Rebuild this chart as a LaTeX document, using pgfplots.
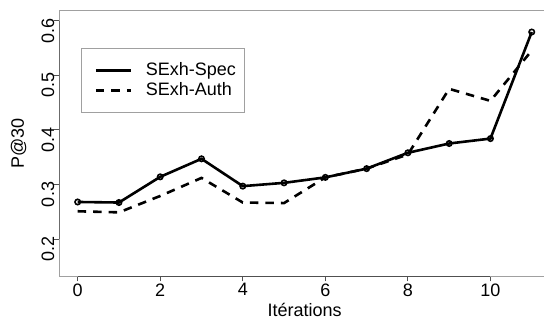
\documentclass[border=0pt]{standalone}
\usepackage{fontspec}
\setmainfont{Liberation Sans}
\usepackage{pgfplots}
\pgfplotsset{compat=1.18}
\definecolor{boxgray}{HTML}{A0A0A0}
\definecolor{axgray}{HTML}{505050}
\pgfplotstableread{
x spec auth
0 0.268 0.251
1 0.267 0.249
2 0.314 0.279
3 0.347 0.312
4 0.297 0.267
5 0.303 0.266
6 0.313 0.313
7 0.329 0.329
8 0.358 0.355
9 0.375 0.475
10 0.384 0.453
11 0.579 0.545
}\datatable
\begin{document}
\begin{tikzpicture}
\begin{axis}[
  at={(0,0)}, anchor=south west,
  scale only axis, width=490.4pt, height=265.6pt,
  xmin=-0.44, xmax=11.44, ymin=0.132, ymax=0.618,
  axis line style={draw=boxgray, line width=0.8pt},
  xtick={0,2,4,6,8,10}, ytick={0.2,0.3,0.4,0.5,0.6},
  xtick pos=bottom, ytick pos=left,
  tick align=outside, major tick length=5pt,
  tick style={axgray, line width=0.8pt},
  /pgf/number format/assume math mode=true,
  yticklabel style={/pgf/number format/fixed, /pgf/number format/precision=1, /pgf/number format/fixed zerofill},
  tick label style={font=\fontsize{18}{21}\selectfont},
  xticklabel style={anchor=north, inner sep=0pt, yshift=-2pt},
  yticklabel style={rotate=90, anchor=south, inner sep=0pt, xshift=-10pt},
  label style={font=\fontsize{18}{21}\selectfont},
  ylabel={P@30},
  ylabel style={at={(axis description cs:-0.0836,0.5)}, anchor=center, rotate=0},
  xlabel={Itérations},
  xlabel style={at={(axis description cs:0.5,-0.1506)}, anchor=base},
  legend style={draw=boxgray, line width=0.8pt, at={(0.0442,0.8584)}, anchor=north west,
    inner xsep=7pt, inner ysep=12pt, row sep=0pt, column sep=11.6pt,
    font=\fontsize{18}{21}\selectfont,
    nodes={inner sep=2pt, text height=12.5pt, text depth=3.5pt}},
  legend cell align=left,
  legend image code/.code={\path (0pt,0pt); \draw[#1] (6pt,0pt) -- (41pt,0pt);},
]
\addplot[black, line width=2.6pt, mark=o, mark size=2.7pt, mark options={solid, line width=1.6pt, fill=white}] table[x=x, y=spec] {\datatable};
\addlegendentry{SExh-Spec}
\addplot[black, line width=2.6pt, dash pattern=on 8.5pt off 7pt] table[x=x, y=auth] {\datatable};
\addlegendentry{SExh-Auth}
\draw[axgray, line width=0.8pt] (axis cs:0,0.132) -- (axis cs:10,0.132);
\draw[axgray, line width=0.8pt] (axis cs:-0.44,0.2) -- (axis cs:-0.44,0.6);
\end{axis}
\pgfresetboundingbox
\path[use as bounding box] (-59.5pt,-40.7pt) rectangle (484.5pt,276.3pt);
\end{tikzpicture}
\end{document}
